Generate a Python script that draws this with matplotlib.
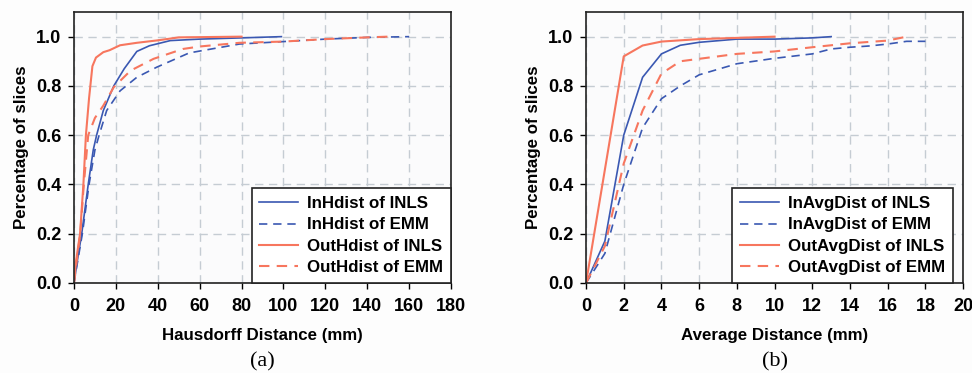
import numpy as np
from matplotlib import pyplot as plt

plt.rcParams['font.family'] = ['Liberation Sans', 'DejaVu Sans']
plt.rcParams['font.weight'] = 'bold'

# (a) Hausdorff distance
in_inls_x = [0, 1.6, 3.7, 6.8, 9.2, 10.8, 14, 19, 24, 30, 36, 46, 60, 80, 99]
in_inls_y = [0, 0.09, 0.2, 0.4, 0.54, 0.6, 0.7, 0.8, 0.87, 0.94, 0.963, 0.984, 0.99, 0.995, 1.0]

in_emm_x = [0, 1.8, 4.0, 7.2, 10, 12, 15.6, 22, 30, 39.5, 55, 79, 100, 120, 140, 160]
in_emm_y = [0, 0.09, 0.2, 0.4, 0.54, 0.6, 0.7, 0.78, 0.835, 0.876, 0.934, 0.97, 0.98, 0.99, 0.997, 1.0]

out_inls_x = [0, 1, 2.9, 4.5, 5.7, 7.2, 8.8, 10.5, 14, 17, 22, 30, 40, 50, 80]
out_inls_y = [0, 0.09, 0.2, 0.4, 0.6, 0.75, 0.88, 0.915, 0.937, 0.945, 0.965, 0.975, 0.985, 0.997, 1.0]

out_emm_x = [0, 1.3, 3.0, 4.7, 6.8, 10, 14, 19, 27, 38, 52, 60, 79, 100, 120, 140, 150]
out_emm_y = [0, 0.09, 0.2, 0.4, 0.6, 0.67, 0.72, 0.795, 0.862, 0.91, 0.95, 0.96, 0.975, 0.98, 0.99, 0.997, 1.0]

# (b) average distance
avg_in_inls_x = [0, 1, 2, 3, 4, 5, 6, 8, 10, 12, 13]
avg_in_inls_y = [0, 0.17, 0.6, 0.835, 0.93, 0.965, 0.977, 0.99, 0.99, 0.995, 1.0]

avg_in_emm_x = [0, 1, 2, 3, 4, 5, 6, 8, 10, 12, 13, 14, 15, 16, 17, 18]
avg_in_emm_y = [0, 0.12, 0.4, 0.63, 0.748, 0.8, 0.845, 0.89, 0.912, 0.93, 0.95, 0.957, 0.962, 0.97, 0.981, 0.981]

avg_out_inls_x = [0, 1, 2, 3, 4, 6, 8, 10]
avg_out_inls_y = [0, 0.46, 0.92, 0.964, 0.98, 0.99, 0.995, 1.0]

avg_out_emm_x = [0, 1, 2, 3, 4, 5, 6, 8, 10, 12, 14, 16, 17]
avg_out_emm_y = [0, 0.15, 0.485, 0.7, 0.85, 0.9, 0.91, 0.93, 0.94, 0.957, 0.973, 0.984, 1.0]

blue = '#3a58b2'
red = '#f7765e'
dash = (0, (5, 3.5))

fig = plt.figure(figsize=(9.72, 3.73), dpi=100, facecolor='#fdfdfd')


def setup(ax, xmax, xstep, xlabel, tag):
    ax.set_facecolor('#fbfbfc')
    ax.set_xlim(0, xmax)
    ax.set_ylim(0, 1.1)
    ax.set_xticks(np.arange(0, xmax + 0.1, xstep))
    ax.set_yticks(np.arange(0, 1.01, 0.2))
    ax.set_yticklabels(['%.1f' % v for v in np.arange(0, 1.01, 0.2)])
    ax.grid(True, color='#c5ccd3', linestyle=(0, (6, 4)), linewidth=1.0)
    ax.set_axisbelow(True)
    ax.tick_params(direction='out', length=4, width=1, labelsize=13, pad=5)
    ax.tick_params(axis='x', pad=7)
    for s in ax.spines.values():
        s.set_color('#222222')
        s.set_linewidth(1.2)
    ax.set_xlabel(xlabel, fontsize=12.2, fontweight='bold', labelpad=9)
    ax.set_ylabel('Percentage of slices', fontsize=12.2, fontweight='bold', labelpad=5)
    ax.text(0.5, -0.29, tag, transform=ax.transAxes, ha='center', va='center',
            fontsize=16, fontweight='normal', family='Liberation Serif')


def legend(ax, xanchor):
    leg = ax.legend(loc='lower right', bbox_to_anchor=(xanchor, 0.0), fontsize=12.2,
                    fancybox=False, framealpha=1, edgecolor='#222222',
                    borderaxespad=0, handlelength=2.3, labelspacing=0.38,
                    borderpad=0.45, handletextpad=0.55)
    leg.get_frame().set_linewidth(1.2)


ax1 = fig.add_axes([0.0761, 0.2413, 0.388, 0.7265])
ax1.plot(in_inls_x, in_inls_y, color=blue, lw=1.2, label='InHdist of INLS')
ax1.plot(in_emm_x, in_emm_y, color=blue, lw=1.2, ls=dash, label='InHdist of EMM')
ax1.plot(out_inls_x, out_inls_y, color=red, lw=1.5, label='OutHdist of INLS')
ax1.plot(out_emm_x, out_emm_y, color=red, lw=1.5, ls=dash, label='OutHdist of EMM')
setup(ax1, 180, 20, 'Hausdorff Distance (mm)', '(a)')
legend(ax1, 1.0)

ax2 = fig.add_axes([0.6029, 0.2413, 0.388, 0.7265])
ax2.plot(avg_in_inls_x, avg_in_inls_y, color=blue, lw=1.2, label='InAvgDist of INLS')
ax2.plot(avg_in_emm_x, avg_in_emm_y, color=blue, lw=1.2, ls=dash, label='InAvgDist of EMM')
ax2.plot(avg_out_inls_x, avg_out_inls_y, color=red, lw=1.5, label='OutAvgDist of INLS')
ax2.plot(avg_out_emm_x, avg_out_emm_y, color=red, lw=1.5, ls=dash, label='OutAvgDist of EMM')
setup(ax2, 20, 2, 'Average Distance (mm)', '(b)')
legend(ax2, 0.973)

fig.savefig('out.png', dpi=100, facecolor=fig.get_facecolor())
